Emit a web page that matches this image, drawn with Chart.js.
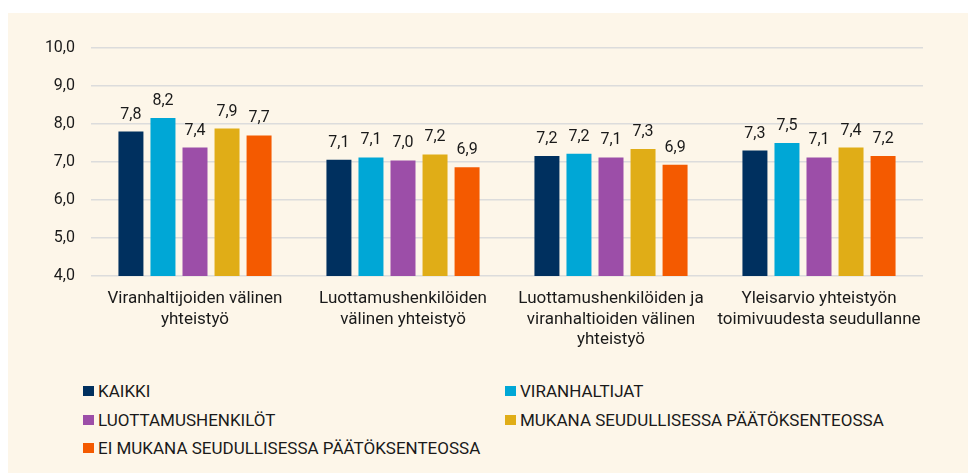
<!DOCTYPE html>
<html>
<head>
<meta charset="utf-8">
<script src="https://cdn.jsdelivr.net/npm/chart.js@4.4.1/dist/chart.umd.min.js"></script>
<style>
  body { margin: 0; background: #fff; font-family: Roboto, sans-serif; }
  .box { position: absolute; left: 8px; top: 13px; width: 960px; height: 460px; background: #fdf6e9; }
  #legend { position: absolute; left: 75px; top: 364px; width: 880px; display: grid; grid-template-columns: 422px 450px; }
  .item { height: 28.5px; display: flex; align-items: center; font-size: 17px; color: #1a1a1a; white-space: nowrap; }
  .sw { width: 11px; height: 10px; margin-right: 4px; }
</style>
</head>
<body>
<div class="box">
  <canvas id="myChart" width="960" height="341"></canvas>
  <div id="legend"></div>
</div>
<script>
// categories and series
const categories = [
  ['Viranhaltijoiden välinen', 'yhteistyö'],
  ['Luottamushenkilöiden', 'välinen yhteistyö'],
  ['Luottamushenkilöiden ja', 'viranhaltioiden välinen', 'yhteistyö'],
  ['Yleisarvio yhteistyön', 'toimivuudesta seudullanne']
];
const seriesNames = ['KAIKKI', 'VIRANHALTIJAT', 'LUOTTAMUSHENKILÖT', 'MUKANA SEUDULLISESSA PÄÄTÖKSENTEOSSA', 'EI MUKANA SEUDULLISESSA PÄÄTÖKSENTEOSSA'];
const kaikki = [7.80, 7.06, 7.16, 7.30];
const viranhaltijat = [8.16, 7.12, 7.22, 7.50];
const luottamus = [7.38, 7.04, 7.12, 7.12];
const mukana = [7.88, 7.20, 7.34, 7.38];
const eiMukana = [7.70, 6.86, 6.93, 7.16];
const yTicks = [4, 5, 6, 7, 8, 9, 10];

const colors = ['#00305f', '#00a7d6', '#9c4ea8', '#e0ad17', '#f45a00'];
const values = [kaikki, viranhaltijat, luottamus, mukana, eiMukana];

const fmt = v => (Math.round(v * 10) / 10).toFixed(1).replace('.', ',');

// value labels above bars
const valueLabels = {
  id: 'valueLabels',
  afterDatasetsDraw(chart) {
    const ctx = chart.ctx;
    ctx.save();
    ctx.font = '16px Roboto';
    ctx.fillStyle = '#1a1a1a';
    ctx.textAlign = 'center';
    ctx.textBaseline = 'alphabetic';
    chart.data.datasets.forEach((ds, i) => {
      chart.getDatasetMeta(i).data.forEach((bar, j) => {
        ctx.fillText(fmt(ds.data[j]), bar.x, bar.y - 13);
      });
    });
    ctx.restore();
  }
};

let element = document.querySelector('#myChart').getContext('2d');
let chart_output = new Chart(element, {
  type: 'bar',
  data: {
    labels: categories,
    datasets: values.map((v, i) => ({
      label: seriesNames[i],
      data: v,
      backgroundColor: colors[i],
      categoryPercentage: 0.77,
      barPercentage: 0.78
    }))
  },
  options: {
    responsive: false,
    animation: false,
    layout: { padding: { top: 35, right: 45, left: 0, bottom: 0 } },
    plugins: { legend: { display: false }, tooltip: { enabled: false } },
    scales: {
      x: {
        grid: { display: false, drawTicks: false },
        border: { display: false },
        ticks: { font: { family: 'Roboto', size: 17 }, color: '#1a1a1a', padding: 13, maxRotation: 0, autoSkip: false },
        afterFit: s => { s.height = 78; }
      },
      y: {
        min: 4, max: 10,
        afterBuildTicks: s => { s.ticks = yTicks.map(v => ({ value: v })); },
        grid: { color: '#dcdcdc', lineWidth: 1.5, drawTicks: false },
        border: { display: false },
        ticks: { font: { family: 'Roboto', size: 16 }, color: '#1a1a1a', padding: 16, callback: v => fmt(v) },
        afterFit: s => { s.width = 83; }
      }
    }
  },
  plugins: [valueLabels]
});

// html legend, two columns
const legend = document.getElementById('legend');
seriesNames.forEach((name, i) => {
  const d = document.createElement('div');
  d.className = 'item';
  d.innerHTML = '<span class="sw" style="background:' + colors[i] + '"></span>' + name;
  legend.appendChild(d);
});
</script>
</body>
</html>
